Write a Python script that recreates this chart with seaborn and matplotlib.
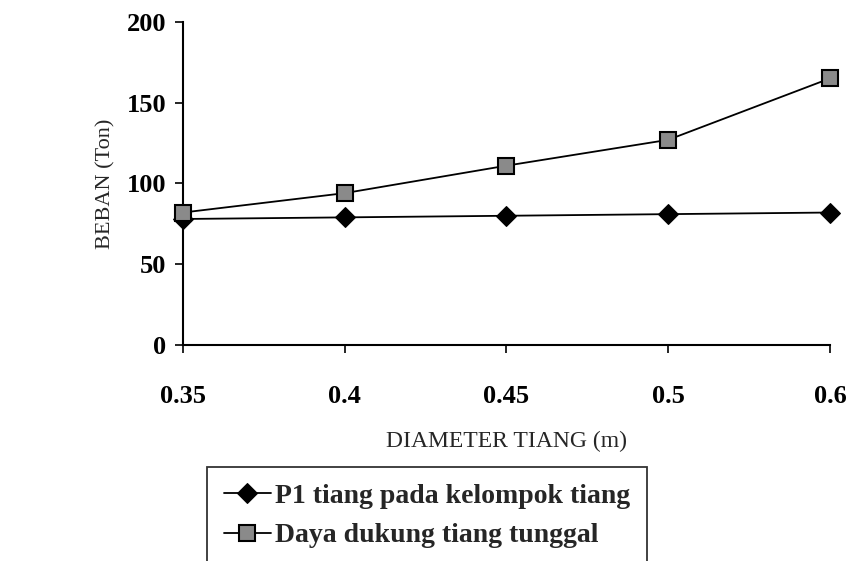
import pandas as pd
import seaborn as sns
import matplotlib.pyplot as plt

diameter = ["0.35", "0.4", "0.45", "0.5", "0.6"]
p1_kelompok = [78, 79, 80, 81, 82]
daya_dukung = [82, 94, 111, 127, 165]

lbl_p1 = "P1 tiang pada kelompok tiang"
lbl_dd = "Daya dukung tiang tunggal"

df = pd.DataFrame({
    "Diameter": diameter * 2,
    "Beban": p1_kelompok + daya_dukung,
    "Seri": [lbl_p1] * len(diameter) + [lbl_dd] * len(diameter),
})

sns.set_style("ticks")
plt.rcParams["font.family"] = ["Liberation Serif", "DejaVu Serif"]

fig = plt.figure(figsize=(8.49, 5.61), dpi=100)
ax = fig.add_axes([0.2155, 0.385, 0.762, 0.576])

sns.lineplot(data=df[df["Seri"] == lbl_p1], x="Diameter", y="Beban", ax=ax,
             color="black", lw=1.3, marker="D", markersize=10,
             markerfacecolor="black", markeredgecolor="black", label=lbl_p1,
             clip_on=False, zorder=3)
sns.lineplot(data=df[df["Seri"] == lbl_dd], x="Diameter", y="Beban", ax=ax,
             color="black", lw=1.3, marker="s", markersize=11,
             markerfacecolor="#8a8a8a", markeredgecolor="black",
             markeredgewidth=1.5, label=lbl_dd, clip_on=False, zorder=4)

ax.set_ylim(0, 200)
ax.set_yticks([0, 50, 100, 150, 200])
ax.set_xlim(0, len(diameter) - 1)
sns.despine(ax=ax)
for s in ["left", "bottom"]:
    ax.spines[s].set_linewidth(1.5)
    ax.spines[s].set_color("black")
ax.tick_params(axis="both", direction="out", length=6, width=1.2, colors="black")
ax.tick_params(axis="x", labelsize=19, pad=23)
ax.tick_params(axis="y", labelsize=19, pad=6)
for t in ax.get_xticklabels() + ax.get_yticklabels():
    t.set_fontweight("bold")

ax.set_xlabel("DIAMETER TIANG (m)", fontsize=17, labelpad=16)
ax.set_ylabel("BEBAN (Ton)", fontsize=16, labelpad=8)

# legend below the plot, as in the original
ax.get_legend().remove()
h, l = ax.get_legend_handles_labels()
leg = fig.legend(h, l, loc="upper left", bbox_to_anchor=(207 / 849, 1 - 467 / 561),
                 frameon=True, fancybox=False, edgecolor="black",
                 prop={"size": 20, "weight": "bold"}, handlelength=1.7,
                 handletextpad=0.15, borderpad=0.6, borderaxespad=0,
                 labelspacing=0.5)
leg.get_frame().set_linewidth(1.3)

fig.savefig("out.png", dpi=100)
